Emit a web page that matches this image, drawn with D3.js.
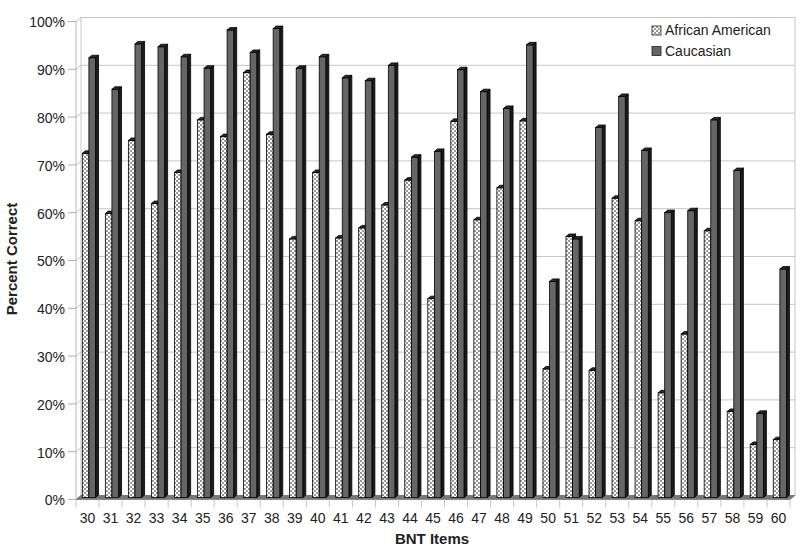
<!DOCTYPE html>
<html>
<head>
<meta charset="utf-8">
<script src="https://cdn.jsdelivr.net/npm/d3@7"></script>
<style>
  body { margin: 0; background: #fff; }
  text { font-family: "Liberation Sans", Arial, sans-serif; fill: #222; }
</style>
</head>
<body>
<svg id="canvas" width="800" height="548"></svg>
<script>
const categories = ["30","31","32","33","34","35","36","37","38","39","40","41","42","43","44","45",
  "46","47","48","49","50","51","52","53","54","55","56","57","58","59","60"]
const seriesNames = ["African American", "Caucasian"]
const africanAmerican = [72, 59.4, 74.7, 61.5, 68, 79, 75.5, 88.9, 76, 54.1, 68, 54.3, 56.4, 61.2, 66.4, 41.6,
  78.7, 58.1, 64.8, 78.8, 26.9, 54.6, 26.6, 62.6, 57.9, 21.9, 34.2, 55.8, 18, 11.1, 12.1]
const caucasian = [92, 85.4, 94.9, 94.3, 92.2, 89.8, 97.8, 93.1, 98.1, 89.8, 92.2, 87.8, 87.2, 90.4, 71.2, 72.4,
  89.5, 84.9, 81.4, 94.7, 45.2, 54.1, 77.4, 83.9, 72.6, 59.6, 60, 79, 68.4, 17.6, 47.8]
const yTicks = [0, 10, 20, 30, 40, 50, 60, 70, 80, 90, 100]

let svg = d3.select('#canvas')

// depth of the 3d walls
const dx = 5, dy = 4
// depth of each column
const bdx = 3, bdy = 2.5

let x = d3.scaleBand().domain(categories).range([76, 790])
let inner = d3.scaleBand().domain(seriesNames).range([6.3, 19.5])
let y = d3.scaleLinear().domain([0, 100]).range([495.5, 17.5])

let defs = svg.append('defs')
let pat = defs.append('pattern')
  .attr('id', 'checker')
  .attr('patternUnits', 'userSpaceOnUse')
  .attr('width', 4).attr('height', 4)
pat.append('rect').attr('width', 4).attr('height', 4).attr('fill', '#fff')
pat.append('rect').attr('width', 2).attr('height', 2).attr('fill', '#999')
pat.append('rect').attr('x', 2).attr('y', 2).attr('width', 2).attr('height', 2).attr('fill', '#999')

let x0 = x.range()[0], x1 = x.range()[1]

// back wall gridlines + diagonal on side wall
svg.append('g').selectAll('path')
  .data(yTicks)
  .enter()
  .append('path')
  .attr('d', d => `M${x0},${y(d) + dy}L${x0 + dx},${y(d)}L${x1 + dx},${y(d)}`)
  .attr('fill', 'none')
  .attr('stroke', '#c6c6c6')
  .attr('stroke-width', 1)

// wall edges
svg.append('line').attr('x1', x0 + dx).attr('x2', x0 + dx).attr('y1', y(100)).attr('y2', y(0))
  .attr('stroke', '#c6c6c6')
svg.append('line').attr('x1', x1 + dx).attr('x2', x1 + dx).attr('y1', y(100)).attr('y2', y(0))
  .attr('stroke', '#c6c6c6')
svg.append('line').attr('x1', x0).attr('x2', x0).attr('y1', y(100) + dy).attr('y2', y(0) + dy)
  .attr('stroke', '#b8b8b8')

// floor
svg.append('path')
  .attr('d', `M${x0},${y(0) + dy}L${x1},${y(0) + dy}L${x1 + dx},${y(0)}L${x0 + dx},${y(0)}Z`)
  .attr('fill', '#777')
  .attr('stroke', '#555')
  .attr('stroke-width', 0.5)

// y ticks and labels
let yAxis = svg.append('g')
yAxis.selectAll('line')
  .data(yTicks)
  .enter()
  .append('line')
  .attr('x1', x0 - 8).attr('x2', x0)
  .attr('y1', d => y(d) + dy).attr('y2', d => y(d) + dy)
  .attr('stroke', '#b0b0b0')
yAxis.selectAll('text')
  .data(yTicks)
  .enter()
  .append('text')
  .attr('x', 65)
  .attr('y', d => y(d) + dy + 1)
  .attr('dy', '0.35em')
  .attr('text-anchor', 'end')
  .attr('font-size', 14)
  .text(d => d + '%')

// x ticks between categories
let xb = categories.map(c => x(c)).concat([x1])
svg.append('g').selectAll('line')
  .data(xb)
  .enter()
  .append('line')
  .attr('x1', d => d).attr('x2', d => d)
  .attr('y1', y(0) + dy).attr('y2', y(0) + dy + 8)
  .attr('stroke', '#c6c6c6')

svg.append('g').selectAll('text')
  .data(categories)
  .enter()
  .append('text')
  .attr('x', c => x(c) + x.bandwidth() / 2)
  .attr('y', 518)
  .attr('dy', '0.35em')
  .attr('text-anchor', 'middle')
  .attr('font-size', 14)
  .text(c => c)

// columns
let rows = categories.map((c, i) => ({ cat: c, values: [africanAmerican[i], caucasian[i]] }))

let drawBar = (g, bx, v, front) => {
  let w = inner.bandwidth()
  let top = y(v) + 2
  let bottom = y(0) + 2
  // side
  g.append('path')
    .attr('d', `M${bx + w},${bottom}L${bx + w + bdx},${bottom - bdy}L${bx + w + bdx},${top - bdy}L${bx + w},${top}Z`)
    .attr('fill', '#1c1c1c').attr('stroke', '#000').attr('stroke-width', 0.8)
  // front
  g.append('rect')
    .attr('x', bx).attr('y', top)
    .attr('width', w).attr('height', bottom - top)
    .attr('fill', front).attr('stroke', '#000').attr('stroke-width', 0.8)
  // top
  g.append('path')
    .attr('d', `M${bx},${top}L${bx + bdx},${top - bdy}L${bx + w + bdx},${top - bdy}L${bx + w},${top}Z`)
    .attr('fill', '#2a2a2a').attr('stroke', '#000').attr('stroke-width', 0.8)
}

let fills = ['url(#checker)', '#666']
let bars = svg.append('g')
rows.forEach(r => {
  let g = bars.append('g')
  r.values.forEach((v, k) => {
    drawBar(g, x(r.cat) + inner(seriesNames[k]), v, fills[k])
  })
})

// axis titles
svg.append('text')
  .attr('x', 432).attr('y', 539)
  .attr('dy', '0.35em')
  .attr('text-anchor', 'middle')
  .attr('font-size', 15).attr('font-weight', 'bold')
  .text('BNT Items')

svg.append('text')
  .attr('transform', 'translate(12,259) rotate(-90)')
  .attr('dy', '0.35em')
  .attr('text-anchor', 'middle')
  .attr('font-size', 15).attr('font-weight', 'bold')
  .text('Percent Correct')

// legend
let legend = svg.append('g').selectAll('g')
  .data(seriesNames)
  .enter()
  .append('g')
  .attr('transform', (d, i) => `translate(652,${26 + i * 20.5})`)
legend.append('rect')
  .attr('width', 9).attr('height', 9)
  .attr('fill', (d, i) => fills[i])
  .attr('stroke', '#222').attr('stroke-width', 0.8)
legend.append('text')
  .attr('x', 13).attr('y', 4.5)
  .attr('dy', '0.35em')
  .attr('font-size', 14)
  .text(d => d)
</script>
</body>
</html>
